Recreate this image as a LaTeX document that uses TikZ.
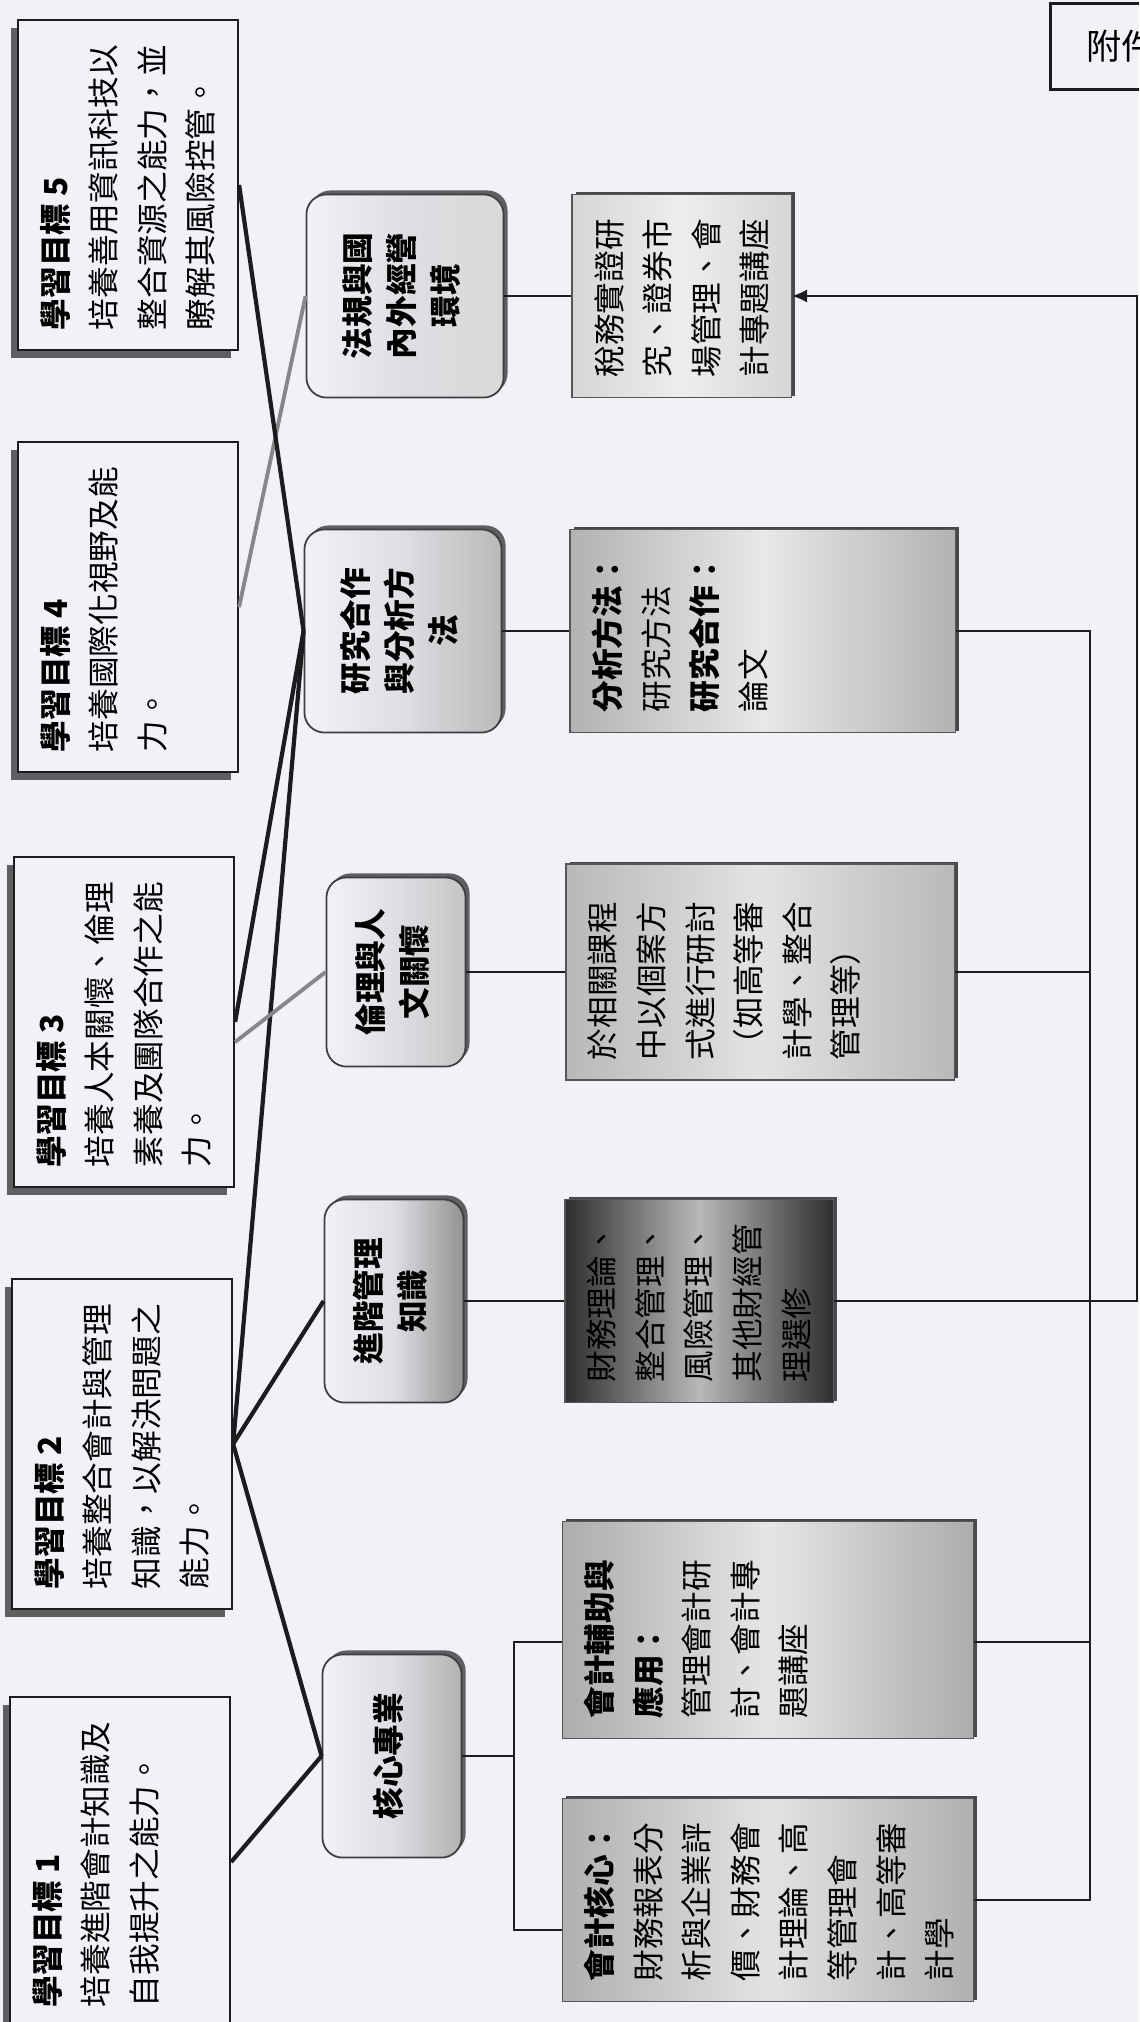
\documentclass[tikz,border=0pt]{standalone}
\usepackage{fontspec}
\setmainfont{Noto Sans CJK TC}
\usepackage{graphicx}
\usetikzlibrary{arrows.meta,positioning,calc,shadows}
\definecolor{ACpaper}{RGB}{241,242,247}
\definecolor{ACink}{RGB}{28,28,30}
\definecolor{ACgray}{RGB}{135,135,138}
\definecolor{ACshade}{RGB}{95,95,98}
% rotated text block: #1 line length, #2 block depth, #3 lines
\newcommand{\vtext}[3]{\rotatebox{90}{\parbox[c][#2][t]{#1}{\raggedright #3}}}
\newcommand{\vmid}[1]{\rotatebox{90}{\begin{tabular}{@{}c@{}}#1\end{tabular}}}
\tikzset{
  goal/.style={draw=ACink,line width=0.6pt,fill=ACpaper,inner xsep=0.22cm,inner ysep=0.2cm,
               font=\fontsize{9}{13.8}\selectfont,
               drop shadow={shadow xshift=-0.07cm,shadow yshift=-0.08cm,fill=ACshade,opacity=1}},
  core/.style={draw=ACink!85,line width=0.5pt,rounded corners=0.2cm,inner sep=0pt,
               minimum width=1.39cm,minimum height=2.03cm,
               font=\fontsize{9}{12.5}\selectfont\bfseries,
               left color=ACpaper,right color=#1,middle color=ACpaper!92!black,
               drop shadow={shadow xshift=0.04cm,shadow yshift=0.04cm,fill=ACshade,opacity=1}},
  topic/.style 2 args={draw=ACink!75,line width=0.4pt,inner xsep=0.22cm,inner ysep=0.2cm,
               font=\fontsize{9}{13.8}\selectfont,
               left color=#1,right color=#1,middle color=#2,
               drop shadow={shadow xshift=0.035cm,shadow yshift=0.02cm,fill=ACink!80,opacity=1}},
  fl/.style={line width=1.2pt,draw=ACink},
  flg/.style={line width=1.1pt,draw=ACgray},
  ln/.style={line width=0.5pt,draw=ACink}
}

\begin{document}
\begin{tikzpicture}[x=0.01cm,y=-0.01cm]
  \useasboundingbox (0,0) rectangle (1139,2022);
  \fill[ACpaper] (0,0) rectangle (1139,2022);
  \clip (0,0) rectangle (1139,2022);

  % learning goals
  \node[goal] (g5) at (128,185) {\vtext{2.9cm}{1.76cm}{\textbf{學習目標 5}\\培養善用資訊科技以\\整合資源之能力，並\\瞭解其風險控管。}};
  \node[goal] (g4) at (128,607) {\vtext{2.9cm}{1.76cm}{\textbf{學習目標 4}\\培養國際化視野及能\\力。}};
  \node[goal] (g3) at (124,1022) {\vtext{2.9cm}{1.76cm}{\textbf{學習目標 3}\\培養人本關懷、倫理\\素養及團隊合作之能\\力。}};
  \node[goal] (g2) at (122,1444) {\vtext{2.9cm}{1.76cm}{\textbf{學習目標 2}\\培養整合會計與管理\\知識，以解決問題之\\能力。}};
  \node[goal] (g1) at (120,1862) {\vtext{2.9cm}{1.76cm}{\textbf{學習目標 1}\\培養進階會計知識及\\自我提升之能力。}};

  % core areas
  \node[core=gray!30,minimum width=1.97cm] (m5) at (405,296) {\vmid{法規與國\\內外經營\\環境}};
  \node[core=gray!55,minimum width=1.97cm] (m4) at (403,631) {\vmid{研究合作\\與分析方\\法}};
  \node[core=gray!45,minimum height=1.89cm] (m3) at (396,972) {\vmid{倫理與人\\文關懷}};
  \node[core=gray!85] (m2) at (394,1301) {\vmid{進階管理\\知識}};
  \node[core=gray!60] (m1) at (392,1756) {\vmid{核心專業}};

  % courses
  \node[topic={gray!32}{gray!14},right=0.67cm of m5] (c5) {\vtext{1.63cm}{1.75cm}{稅務實證研\\究、證券市\\場管理、會\\計專題講座}};
  \node[topic={gray!60}{gray!18},right=0.67cm of m4] (c4) {\vtext{1.63cm}{3.41cm}{\textbf{分析方法：}\\研究方法\\\textbf{研究合作：}\\論文}};
  \node[topic={gray!55}{gray!22},right=0.99cm of m3] (c3) {\vtext{1.76cm}{3.44cm}{於相關課程\\中以個案方\\式進行研討\\（如高等審\\計學、整合\\管理等）}};
  \node[topic={black!82}{gray!55},right=1cm of m2] (c2) {\vtext{1.63cm}{2.24cm}{財務理論、\\整合管理、\\風險管理、\\其他財經管\\理選修}};
  \node[topic={gray!65}{gray!20}] (c1b) at (768,1630) {\vtext{1.77cm}{3.67cm}{\textbf{會計輔助與}\\\textbf{應用：}\\管理會計研\\討、會計專\\題講座}};
  \node[topic={gray!62}{gray!22}] (c1a) at (768,1900) {\vtext{1.63cm}{3.67cm}{\textbf{會計核心：}\\財務報表分\\析與企業評\\價、財務會\\計理論、高\\等管理會\\計、高等審\\計學}};

  \node[draw=ACink,line width=0.8pt,anchor=north west,minimum height=0.86cm,inner xsep=0.36cm,
        text width=1.6cm,font=\fontsize{10}{12}\selectfont] (att) at (1049,2) {附件};

  % goals to core areas
  \draw[fl] (g1.east) -- (m1.west);
  \draw[fl] (g2.east) -- (m1.west);
  \draw[fl] (g2.east) -- (m2.west);
  \draw[fl] (g2.east) -- (m4.west);
  \draw[fl] (g3.east) -- (m4.west);
  \draw[flg] ([yshift=-0.2cm]g3.east) -- (m3.west);
  \draw[flg] (g4.east) -- (m5.west);
  \draw[fl] (g5.east) -- (m4.west);

  % core areas to courses
  \coordinate (brk) at (514,1762);
  \coordinate (rail) at (1090,638);
  \coordinate (edge) at (1137,302);
  \draw[ln] (m5.east) -- (c5.west);
  \draw[ln] (m4.east) -- (c4.west);
  \draw[ln] (m3.east) -- (c3.west);
  \draw[ln] (m2.east) -- (c2.west);
  \draw[ln] (m1.east) -- (m1.east -| brk);
  \draw[ln] ([yshift=-0.12cm]c1b.west) -- ([yshift=-0.12cm]c1b.west -| brk)
            -- ([yshift=-0.3cm]c1a.west -| brk) -- ([yshift=-0.3cm]c1a.west);

  % feedback lines
  \draw[ln] (c4.east) -- (c4.east -| rail) -- (c1a.east -| rail) -- (c1a.east);
  \draw[ln] (c3.east) -- (c3.east -| rail);
  \draw[ln] ([yshift=-0.12cm]c1b.east) -- ([yshift=-0.12cm]c1b.east -| rail);
  \draw[ln,-{Latex[length=0.15cm,width=0.13cm]}] (c2.east) -- (c2.east -| edge)
            -- (c5.east -| edge) -- (c5.east);
\end{tikzpicture}
\end{document}
